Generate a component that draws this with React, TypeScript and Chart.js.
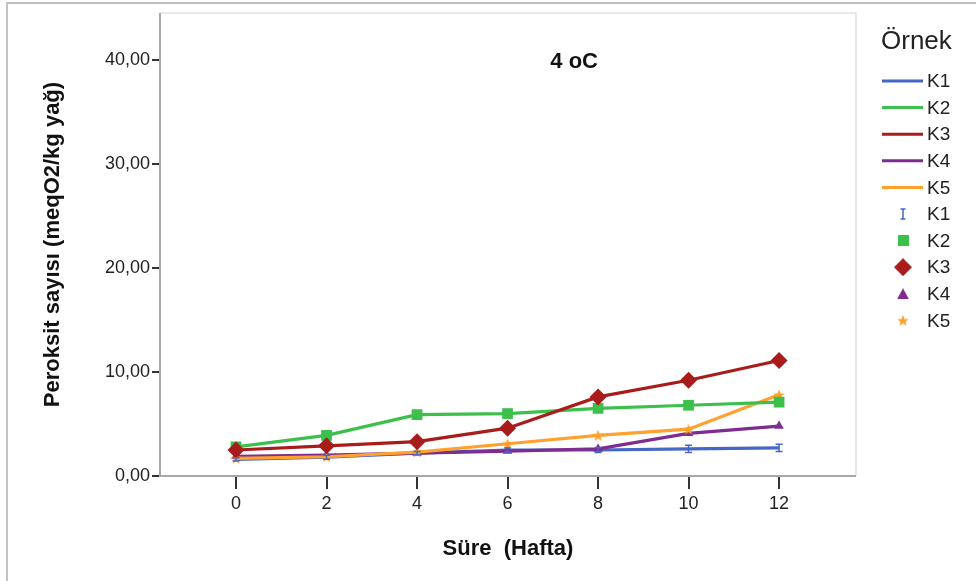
import React, { useEffect, useRef } from "react";
import { Chart, registerables } from "chart.js";

Chart.register(...registerables);

// ---- data ----
const weeks = [0, 2, 4, 6, 8, 10, 12];
const seriesNames = ["K1", "K2", "K3", "K4", "K5"];
const k1 = [1.6, 1.8, 2.2, 2.5, 2.5, 2.6, 2.7];
const k1Err = [0.15, 0.2, 0.15, 0.2, 0.25, 0.35, 0.35];
const k2 = [2.8, 3.9, 5.9, 6.0, 6.5, 6.8, 7.1];
const k3 = [2.5, 2.9, 3.3, 4.6, 7.6, 9.2, 11.1];
const k4 = [1.9, 2.0, 2.2, 2.4, 2.6, 4.1, 4.8];
const k5 = [1.7, 1.85, 2.3, 3.1, 3.9, 4.5, 7.8];
const yTicks = [0, 10, 20, 30, 40];
const xTicks = [0, 2, 4, 6, 8, 10, 12];
const chartTitle = "4 oC";
const legendTitle = "Örnek";
const xTitle = "Süre  (Hafta)";
const yTitle = "Peroksit sayısı (meqO2/kg yağ)";

const colors = ["#4567c6", "#3dbf4c", "#a81c1c", "#7e2c90", "#ffa12e"];
const FONT = "'Liberation Sans', Arial, sans-serif";

function makeCanvas(w: number, h: number, draw: (c: CanvasRenderingContext2D) => void) {
  const cv = document.createElement("canvas");
  cv.width = w;
  cv.height = h;
  const c = cv.getContext("2d")!;
  draw(c);
  return cv;
}

function markerCanvas(kind: string, color: string) {
  switch (kind) {
    case "I":
      return makeCanvas(8, 12, (c) => {
        c.strokeStyle = color;
        c.lineWidth = 1.5;
        c.beginPath();
        c.moveTo(4, 1); c.lineTo(4, 11);
        c.moveTo(1.5, 1); c.lineTo(6.5, 1);
        c.moveTo(1.5, 11); c.lineTo(6.5, 11);
        c.stroke();
      });
    case "square":
      return makeCanvas(11, 11, (c) => {
        c.fillStyle = color;
        c.fillRect(0, 0, 11, 11);
      });
    case "diamond":
      return makeCanvas(18, 18, (c) => {
        c.fillStyle = color;
        c.beginPath();
        c.moveTo(9, 0); c.lineTo(18, 9); c.lineTo(9, 18); c.lineTo(0, 9);
        c.closePath();
        c.fill();
      });
    case "triangle":
      return makeCanvas(12, 11, (c) => {
        c.fillStyle = color;
        c.beginPath();
        c.moveTo(6, 0); c.lineTo(12, 11); c.lineTo(0, 11);
        c.closePath();
        c.fill();
      });
    case "star":
    default:
      return makeCanvas(12, 12, (c) => {
        c.fillStyle = color;
        c.beginPath();
        for (let i = 0; i < 10; i++) {
          const r = i % 2 === 0 ? 6 : 2.6;
          const a = -Math.PI / 2 + (i * Math.PI) / 5;
          const px = 6 + r * Math.cos(a);
          const py = 6.5 + r * Math.sin(a);
          if (i === 0) c.moveTo(px, py); else c.lineTo(px, py);
        }
        c.closePath();
        c.fill();
      });
  }
}

const markerKinds = ["I", "square", "diamond", "triangle", "star"];

export default function App() {
  const ref = useRef<HTMLCanvasElement | null>(null);

  useEffect(() => {
    if (!ref.current) return;
    const values = [k1, k2, k3, k4, k5];
    const starImg = markerCanvas("star", colors[4]);
    const pointCfg = [
      { pointStyle: "circle", pointRadius: 0 },
      { pointStyle: "rect", pointRadius: 7.6 },
      { pointStyle: "rectRot", pointRadius: 8.5 },
      { pointStyle: "triangle", pointRadius: 5.5 },
      { pointStyle: starImg, pointRadius: 6 },
    ];
    const drawOrder = [4, 1, 0, 3, 2];
    const datasets = seriesNames.map((name, i) => ({
      label: name,
      data: weeks.map((w, j) => ({ x: w, y: values[i][j] })),
      borderColor: colors[i],
      backgroundColor: colors[i],
      pointBackgroundColor: colors[i],
      pointBorderColor: colors[i],
      pointBorderWidth: 0,
      borderWidth: 3.2,
      tension: 0,
      order: drawOrder[i],
      ...pointCfg[i],
    }));

    const errorBars = {
      id: "errorBars",
      afterDatasetsDraw(chart: any) {
        const { ctx, scales } = chart;
        ctx.save();
        ctx.strokeStyle = colors[0];
        ctx.lineWidth = 1.5;
        weeks.forEach((w, j) => {
          const x = scales.x.getPixelForValue(w);
          const y1 = scales.y.getPixelForValue(k1[j] - k1Err[j]);
          const y2 = scales.y.getPixelForValue(k1[j] + k1Err[j]);
          ctx.beginPath();
          ctx.moveTo(x, y1); ctx.lineTo(x, y2);
          ctx.moveTo(x - 3.5, y1); ctx.lineTo(x + 3.5, y1);
          ctx.moveTo(x - 3.5, y2); ctx.lineTo(x + 3.5, y2);
          ctx.stroke();
        });
        ctx.restore();
      },
    };

    const frameAndText = {
      id: "frameAndText",
      beforeDatasetsDraw(chart: any) {
        const { ctx, chartArea: a } = chart;
        ctx.save();
        ctx.lineWidth = 1.5;
        ctx.strokeStyle = "#e2e2e2";
        ctx.beginPath();
        ctx.moveTo(a.left, a.top); ctx.lineTo(a.right, a.top); ctx.lineTo(a.right, a.bottom);
        ctx.stroke();
        ctx.strokeStyle = "#a8a8a8";
        ctx.lineWidth = 2;
        ctx.beginPath();
        ctx.moveTo(a.left, a.top); ctx.lineTo(a.left, a.bottom); ctx.lineTo(a.right, a.bottom);
        ctx.stroke();
        ctx.fillStyle = "#111";
        ctx.font = `bold 22px ${FONT}`;
        ctx.textAlign = "center";
        ctx.textBaseline = "middle";
        ctx.fillText(chartTitle, a.left + (a.right - a.left) * 0.595, 62);
        ctx.restore();
      },
      afterDraw(chart: any) {
        const { ctx } = chart;
        ctx.save();
        ctx.fillStyle = "#222";
        ctx.textBaseline = "middle";
        ctx.textAlign = "left";
        ctx.font = `26px ${FONT}`;
        ctx.fillText(legendTitle, 881, 42);
        ctx.font = `19px ${FONT}`;
        const rowY = (i: number) => 81 + i * 26.6;
        seriesNames.forEach((name, i) => {
          const y = rowY(i);
          ctx.strokeStyle = colors[i];
          ctx.lineWidth = 3;
          ctx.beginPath();
          ctx.moveTo(882, y); ctx.lineTo(923, y);
          ctx.stroke();
          ctx.fillStyle = "#222";
          ctx.fillText(name, 927, y + 1);
        });
        seriesNames.forEach((name, i) => {
          const y = rowY(i + 5);
          const m = markerCanvas(markerKinds[i], colors[i]);
          ctx.drawImage(m, 903 - m.width / 2, y - m.height / 2);
          ctx.fillStyle = "#222";
          ctx.fillText(name, 927, y + 1);
        });
        ctx.restore();
      },
    };

    const chart = new Chart(ref.current, {
      type: "line",
      data: { datasets: datasets as any },
      plugins: [frameAndText, errorBars],
      options: {
        animation: false,
        responsive: false,
        layout: { padding: { left: 0, right: 120, top: 13, bottom: 0 } },
        plugins: { legend: { display: false }, tooltip: { enabled: false } },
        scales: {
          x: {
            type: "linear",
            min: -1.68,
            max: 13.7,
            afterBuildTicks: (s: any) => { s.ticks = xTicks.map((v) => ({ value: v })); },
            afterFit: (s: any) => { s.height = 105; },
            grid: { drawOnChartArea: false, drawTicks: true, tickLength: 13, color: "#333", lineWidth: 2 },
            border: { display: false },
            ticks: { color: "#222", font: { family: FONT, size: 18 }, padding: 4, maxRotation: 0 },
            title: { display: true, text: xTitle, color: "#111", font: { family: FONT, size: 22, weight: "bold" }, padding: { top: 0, bottom: 19 } },
          },
          y: {
            type: "linear",
            min: 0,
            max: 44.5,
            afterBuildTicks: (s: any) => { s.ticks = yTicks.map((v) => ({ value: v })); },
            afterFit: (s: any) => { s.width = 160; },
            grid: { drawOnChartArea: false, drawTicks: true, tickLength: 8, color: "#333", lineWidth: 2 },
            border: { display: false },
            ticks: {
              color: "#222",
              font: { family: FONT, size: 18 },
              padding: 2,
              callback: (v: any) => Number(v).toFixed(2).replace(".", ","),
            },
            title: { display: true, text: yTitle, color: "#111", font: { family: FONT, size: 22, weight: "bold" }, padding: { top: 40, bottom: 0 } },
          },
        },
      },
    });
    return () => chart.destroy();
  }, []);

  return (
    <div style={{ position: "fixed", left: 0, top: 0, width: 976, height: 581, background: "#fff" }}>
      <div style={{ position: "absolute", left: 6, top: 2, right: -10, bottom: -10, borderLeft: "2px solid #c4c4c4", borderTop: "2px solid #bdbdbd" }} />
      <canvas ref={ref} width={976} height={581} style={{ position: "absolute", left: 0, top: 0 }} />
    </div>
  );
}
